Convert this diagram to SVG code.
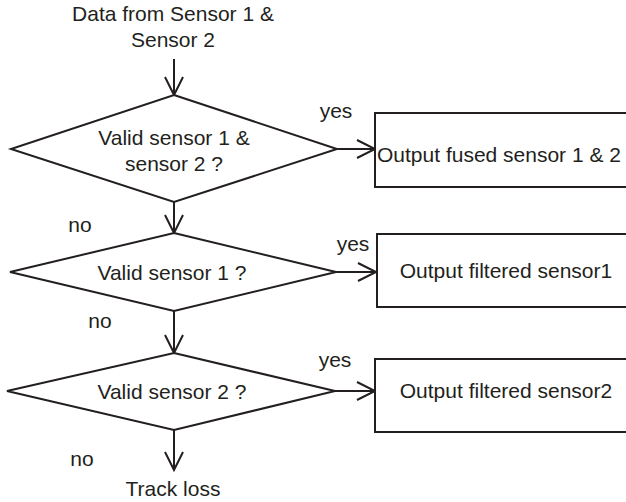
<svg xmlns="http://www.w3.org/2000/svg" width="626" height="502" viewBox="0 0 626 502">
<defs>
<style>
.t{font-family:"Liberation Sans",Arial,sans-serif;font-size:21px;fill:#231f20}
.m{text-anchor:middle}
.s{fill:#fff;stroke:#231f20;stroke-width:2}
.c{fill:none;stroke:#231f20;stroke-width:2}
</style>
<marker id="ah" markerUnits="userSpaceOnUse" markerWidth="24" markerHeight="24" viewBox="-20 -12 24 24" refX="0" refY="0" orient="auto">
<path d="M-18,-9 L0,0 L-18,9" fill="none" stroke="#231f20" stroke-width="2"/>
</marker>
</defs>
<rect width="626" height="502" fill="#fff"/>
<g id="connectors">
<line class="c" x1="174" y1="59" x2="174" y2="95" marker-end="url(#ah)"/>
<line class="c" x1="174" y1="202" x2="174" y2="233" marker-end="url(#ah)"/>
<line class="c" x1="174" y1="311" x2="174" y2="353" marker-end="url(#ah)"/>
<line class="c" x1="174" y1="430" x2="174" y2="470" marker-end="url(#ah)"/>
<line class="c" x1="337" y1="149" x2="375" y2="149" marker-end="url(#ah)"/>
<line class="c" x1="336" y1="272" x2="376" y2="272" marker-end="url(#ah)"/>
<line class="c" x1="335" y1="391" x2="375" y2="391" marker-end="url(#ah)"/>
<text class="t m" x="336" y="118">yes</text>
<text class="t m" x="353" y="251">yes</text>
<text class="t m" x="335" y="367">yes</text>
<text class="t m" x="80" y="232">no</text>
<text class="t m" x="100" y="328">no</text>
<text class="t m" x="82" y="466">no</text>
</g>
<g id="start">
<text class="t m" x="173" y="21">Data from Sensor 1 &amp;</text>
<text class="t m" x="173" y="47">Sensor 2</text>
</g>
<g id="d1">
<polygon class="s" points="174,95 337,149 174,202 11,149"/>
<text class="t m" x="174" y="145">Valid sensor 1 &amp;</text>
<text class="t m" x="174" y="171">sensor 2 ?</text>
</g>
<g id="b1">
<rect class="s" x="375" y="113" width="265" height="74"/>
<text class="t" x="377" y="162">Output fused sensor 1 &amp; 2</text>
</g>
<g id="d2">
<polygon class="s" points="174,233 336,272 174,311 10,272"/>
<text class="t m" x="172" y="280">Valid sensor 1 ?</text>
</g>
<g id="b2">
<rect class="s" x="377" y="234" width="265" height="73"/>
<text class="t m" x="506" y="278">Output filtered sensor1</text>
</g>
<g id="d3">
<polygon class="s" points="174,353 335,391 174,430 7,391"/>
<text class="t m" x="172" y="399">Valid sensor 2 ?</text>
</g>
<g id="b3">
<rect class="s" x="375" y="359" width="265" height="73"/>
<text class="t m" x="506" y="398">Output filtered sensor2</text>
</g>
<g id="end">
<text class="t m" x="173" y="496">Track loss</text>
</g>
</svg>
